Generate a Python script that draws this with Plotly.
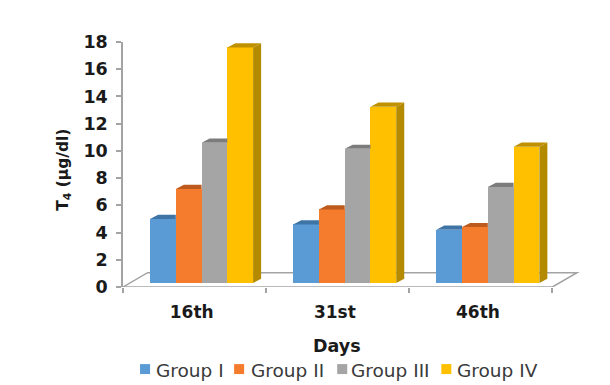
import plotly.graph_objects as go

days = ["16th", "31st", "46th"]
group_names = ["Group I", "Group II", "Group III", "Group IV"]
group_1 = [4.7, 4.3, 3.9]
group_2 = [6.9, 5.4, 4.1]
group_3 = [10.3, 9.85, 7.05]
group_4 = [17.3, 12.95, 10.0]
series = [group_1, group_2, group_3, group_4]

front_colors = ["#5B9BD5", "#F47C2C", "#A5A5A5", "#FFC000"]
top_colors = ["#3F74A6", "#BD5B1E", "#7C7C7C", "#BF9000"]
side_color = "#B38A00"
axis_color = "#A3A3A3"
text_color = "#1A1A1A"

# Key entries along the bottom: swatch and label offsets in paper units
key_swatch_x = [0.0372, 0.2426, 0.4677, 0.6950]
key_text_x = [0.0722, 0.2801, 0.4983, 0.7298]
key_y = -0.335
key_size = 0.0219

# 3D look: depth of a bar and of the floor, in axis units
bar_dx, bar_dy = 0.056, 0.31
floor_dx, floor_dy = 0.172, 1.05
bar_base = 0.3
bar_start = 0.189
bar_width = 0.18

fig = go.Figure()

for j, values in enumerate(series):
    fig.add_trace(go.Bar(
        name=group_names[j],
        x=[i + bar_start + (j + 0.5) * bar_width for i in range(len(days))],
        y=values,
        base=bar_base,
        width=bar_width,
        marker=dict(color=front_colors[j], line=dict(width=0)),
    ))

# Top and side faces, computed from the same values
for j, values in enumerate(series):
    for i, v in enumerate(values):
        left = i + bar_start + j * bar_width
        right = left + bar_width
        top = v + bar_base
        last = j == len(series) - 1
        far = right + bar_dx if last else right
        fig.add_trace(go.Scatter(
            x=[left, left + bar_dx, far, right, left],
            y=[top, top + bar_dy, top + bar_dy, top, top],
            mode="lines", fill="toself", fillcolor=top_colors[j],
            line=dict(width=0), showlegend=False, hoverinfo="skip",
        ))
        if last:
            fig.add_trace(go.Scatter(
                x=[right, right + bar_dx, right + bar_dx, right, right],
                y=[bar_base, bar_base + bar_dy, top + bar_dy, top, bar_base],
                mode="lines", fill="toself", fillcolor=side_color,
                line=dict(width=0), showlegend=False, hoverinfo="skip",
            ))

n = len(days)
floor_path = (
    f"M 0 0 L {floor_dx} {floor_dy} L {n + floor_dx} {floor_dy} L {n} 0"
)
fig.add_shape(type="path", path=floor_path, xref="x", yref="y", layer="below",
              line=dict(color=axis_color, width=1.5))
fig.add_shape(type="line", x0=0, x1=n, y0=0, y1=0, xref="x", yref="y",
              layer="above", line=dict(color=axis_color, width=1.5))

# Hand-spaced key, tighter than the built-in legend allows
for name, color, sx, tx in zip(group_names, front_colors, key_swatch_x, key_text_x):
    fig.add_shape(type="rect", xref="paper", yref="paper",
                  x0=sx, x1=sx + key_size, y0=key_y - key_size * 0.93, y1=key_y + key_size * 0.93,
                  fillcolor=color, line=dict(width=0))
    fig.add_annotation(text=name, xref="paper", yref="paper", x=tx, y=key_y - 0.004,
                       xanchor="left", yanchor="middle", showarrow=False,
                       xshift=-1, borderpad=0,
                       font=dict(family="DejaVu Sans", size=18.5, color="#3A3A3A"))

# Axis titles sit off-centre from the plot area, so they are placed directly
fig.add_annotation(text="Days", xref="paper", yref="paper", x=0.4677, y=-0.241,
                   xanchor="center", yanchor="middle", showarrow=False,
                   font=dict(family="DejaVu Sans", size=17.5, color=text_color, weight="bold"))
fig.add_annotation(text="T<sub>4</sub> (µg/dl)", xref="paper", yref="paper", x=-0.129, y=0.478,
                   xanchor="center", yanchor="middle", showarrow=False, textangle=-90,
                   font=dict(family="DejaVu Sans", size=15.5, color=text_color, weight="bold"))

fig.update_layout(
    width=610, height=385,
    margin=dict(l=123, r=29.4, t=42, b=98, autoexpand=False),
    paper_bgcolor="white", plot_bgcolor="white",
    barmode="overlay", bargap=0,
    font=dict(family="DejaVu Sans", color=text_color),
    showlegend=False,
    xaxis=dict(
        range=[0, 3.2], showgrid=False, zeroline=False, showline=False,
        tickmode="array", tickvals=[i + 0.48 for i in range(n)], ticktext=days,
        ticks="", tickfont=dict(family="DejaVu Sans", size=17, color=text_color, weight="bold"),
        ticklabelstandoff=13,
        minor=dict(tickmode="array", tickvals=list(range(n + 1)), ticks="outside",
                   ticklen=5, tickcolor=axis_color, tickwidth=1.5),
    ),
    yaxis=dict(
        range=[0, 18], dtick=2, showgrid=False, zeroline=False,
        showline=True, linecolor=axis_color, linewidth=1.5,
        ticks="outside", ticklen=5, tickcolor=axis_color, tickwidth=1.5,
        tickfont=dict(family="DejaVu Sans", size=17.5, color=text_color, weight="bold"),
        ticklabelstandoff=5,
    ),
)

fig.write_html("out.html")
